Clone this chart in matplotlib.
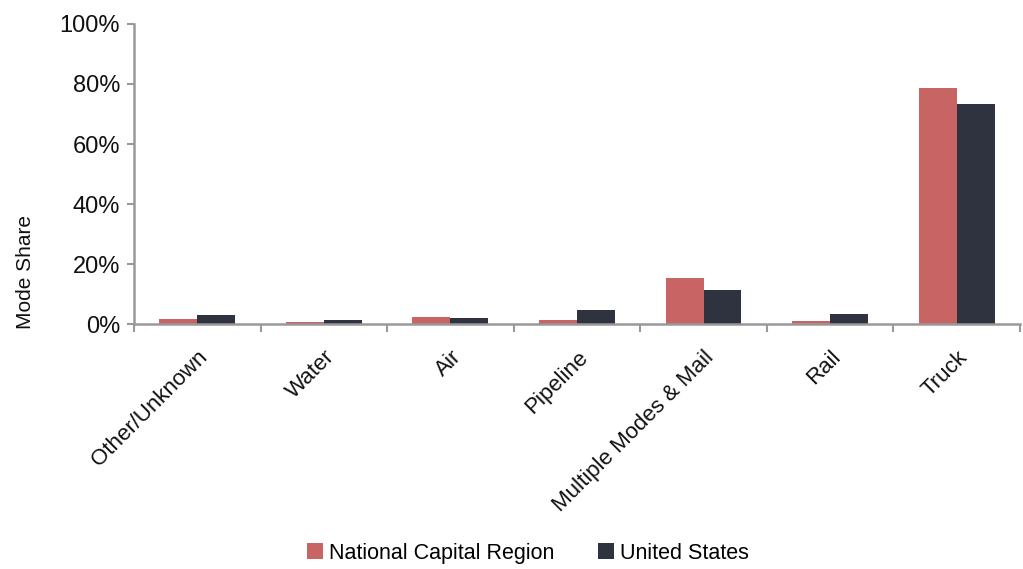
import numpy as np
import matplotlib
matplotlib.use("Agg")
import matplotlib.pyplot as plt
from matplotlib.ticker import PercentFormatter

plt.rcParams["font.family"] = ["Liberation Sans", "DejaVu Sans"]

categories = ["Other/Unknown", "Water", "Air", "Pipeline",
              "Multiple Modes & Mail", "Rail", "Truck"]
ncr = [1.9, 0.7, 2.3, 1.5, 15.3, 1.0, 78.6]
usa = [3.2, 1.5, 2.2, 4.9, 11.5, 3.4, 73.2]

NCR_COLOR = "#C86464"
US_COLOR = "#2F323F"
AXIS_GRAY = "#999999"

fig = plt.figure(figsize=(10.23, 5.69), dpi=100)
ax = fig.add_axes([0.131, 0.430, 0.866, 0.528])

x = np.arange(len(categories))
w = 0.3
ax.bar(x - w / 2, ncr, w, color=NCR_COLOR, label="National Capital Region")
ax.bar(x + w / 2, usa, w, color=US_COLOR, label="United States")

ax.set_xlim(-0.5, len(categories) - 0.5)
ax.set_ylim(0, 100)
ax.yaxis.set_major_formatter(PercentFormatter(decimals=0))
ax.set_yticks(np.arange(0, 101, 20))
ax.tick_params(axis="y", labelsize=17, colors=AXIS_GRAY, labelcolor="#111111",
               length=5, width=1.5, direction="out", pad=5)

# labels at centers, tick marks between categories
ax.set_xticks(x)
ax.set_xticklabels(categories, rotation=45, ha="right", rotation_mode="anchor",
                   fontsize=16, color="#111111")
ax.tick_params(axis="x", which="major", length=0, pad=16)
ax.set_xticks(np.arange(-0.5, len(categories), 1), minor=True)
ax.tick_params(axis="x", which="minor", length=6, width=1.5, colors=AXIS_GRAY)

for side in ["top", "right"]:
    ax.spines[side].set_visible(False)
for side in ["left", "bottom"]:
    ax.spines[side].set_color(AXIS_GRAY)
    ax.spines[side].set_linewidth(1.8)

ax.set_ylabel("Mode Share", fontsize=15, color="#111111")
ax.yaxis.set_label_coords(-0.112, 0.173)

fig.legend(loc="center", bbox_to_anchor=(0.516, 0.028), ncol=2,
           frameon=False, fontsize=15.5, handlelength=0.75, handleheight=0.75,
           handletextpad=0.3, columnspacing=2.0)

fig.savefig("out.png", dpi=100)
